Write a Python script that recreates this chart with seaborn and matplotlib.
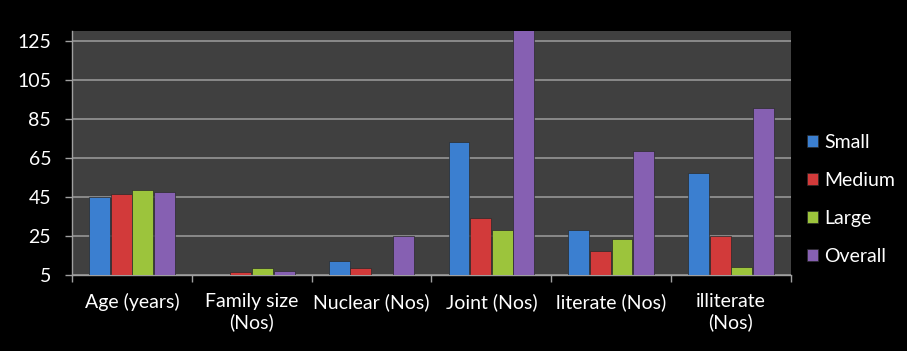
import pandas as pd
import matplotlib.pyplot as plt
import seaborn as sns

# values
categories = ['Age (years)', 'Family size\n(Nos)', 'Nuclear (Nos)', 'Joint (Nos)',
              'literate (Nos)', 'illiterate\n(Nos)']
small = [45, 5, 12.3, 73, 28.3, 57]
medium = [46.4, 6.4, 8.4, 34, 17.3, 25]
large = [48.4, 8.4, 5, 28.3, 23.7, 8.9]
overall = [47.6, 7.2, 25, 135, 68.5, 90.6]
groups = ['Small', 'Medium', 'Large', 'Overall']
colors = ['#3b7fd0', '#d23a3a', '#9cc43c', '#8660b2']
yticks = [5, 25, 45, 65, 85, 105, 125]

df = pd.DataFrame({'Category': categories, 'Small': small, 'Medium': medium,
                   'Large': large, 'Overall': overall})
df = df.melt(id_vars='Category', var_name='Group', value_name='Value')

sns.set_style('dark')
plt.rcParams['font.family'] = ['Lato', 'DejaVu Sans']

fig = plt.figure(figsize=(9.07, 3.51), dpi=100, facecolor='black')
ax = fig.add_axes([0.0794, 0.2165, 0.7926, 0.6952])
ax.set_facecolor('#404040')

sns.barplot(data=df, x='Category', y='Value', hue='Group', hue_order=groups,
            palette=colors, saturation=1, width=0.72, gap=0.03, ax=ax,
            edgecolor='#2a2a2a', linewidth=0.5, zorder=3)

ax.set_ylim(5, 130)
ax.set_xlim(-0.5, 5.5)
ax.set_yticks(yticks)
ax.yaxis.grid(True, color='#8a8a8a', linewidth=1.4, zorder=0)
ax.xaxis.grid(False)
ax.set_xlabel('')
ax.set_ylabel('')

# Excel-style ticks between categories
ax.set_xticks([0.5 + i for i in range(-1, 6)], minor=True)
ax.tick_params(axis='x', which='minor', length=5, color='#a0a0a0', width=1, bottom=True)
ax.tick_params(axis='x', which='major', length=0, labelsize=14, labelcolor='white', pad=13)
ax.tick_params(axis='y', length=5, color='#a0a0a0', width=1, left=True,
               labelsize=14, labelcolor='white', pad=10)

for side in ['top', 'right']:
    ax.spines[side].set_visible(False)
ax.spines['left'].set_color('#a0a0a0')
ax.spines['bottom'].set_color('#a0a0a0')
ax.spines['left'].set_linewidth(1)
ax.spines['bottom'].set_linewidth(1)

leg = ax.legend(loc='center left', bbox_to_anchor=(0.998, 0.31), frameon=False,
                fontsize=14, labelspacing=1.07, handlelength=0.55, handleheight=0.55,
                handletextpad=0.35)
for t in leg.get_texts():
    t.set_color('white')

plt.savefig('out.png', dpi=100, facecolor='black')
